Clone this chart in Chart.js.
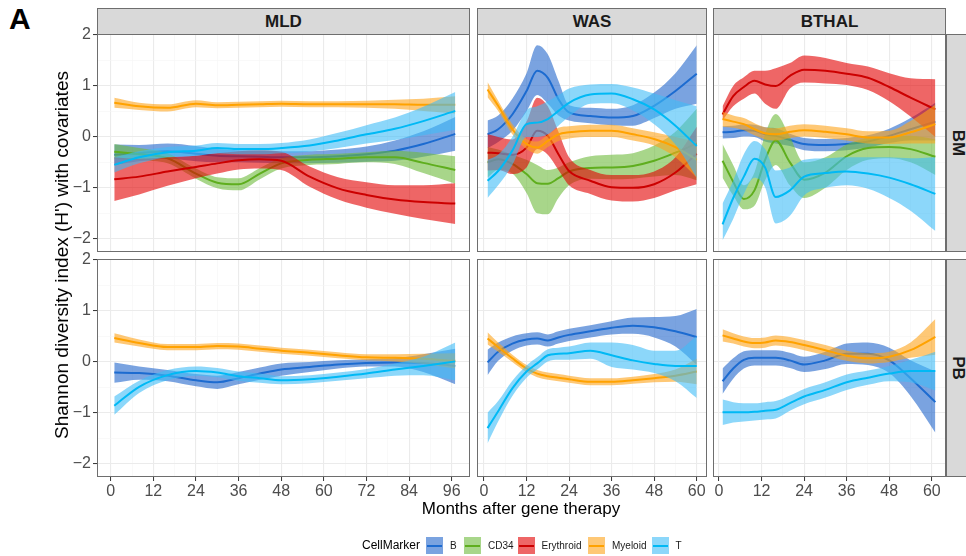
<!DOCTYPE html>
<html>
<head>
<meta charset="utf-8">
<script src="https://cdn.jsdelivr.net/npm/chart.js@4.4.1/dist/chart.umd.min.js"></script>
<style>
  body { margin: 0; background: #fff; font-family: "Liberation Sans", Arial, sans-serif; }
  #fig { position: relative; width: 966px; height: 556px; overflow: hidden; background: #fff; }
  #fig canvas { position: absolute; }
  .strip { position: absolute; background: #d9d9d9; border: 1px solid #6e6e6e; box-sizing: border-box;
           font-weight: bold; font-size: 17px; color: #1a1a1a; display: flex; align-items: center; justify-content: center; }
  .strip.side span { display: inline-block; transform: rotate(90deg); white-space: nowrap; }
  .frame { position: absolute; border: 1px solid #6e6e6e; box-sizing: border-box; pointer-events: none; }
  .txt { position: absolute; white-space: nowrap; color: #000; }
  .key { position: absolute; width: 17px; height: 17px; }
  .key i { position: absolute; left: 1px; right: 1px; top: 7.5px; height: 2px; }
</style>
</head>
<body>
<div id="fig"></div>
<script>
// categories
const cellMarkers = ['B', 'CD34', 'Erythroid', 'Myeloid', 'T'];

// months sampled along each smooth curve
const mldMonths = [1, 8, 16, 24, 30, 36, 42, 48, 56, 64, 72, 80, 88, 97];
const wasMonths = [1, 4, 8, 12, 15, 18, 21, 24, 30, 36, 42, 48, 54, 60];
const bthalMonths = [1, 4, 7, 10, 13, 16, 20, 24, 30, 36, 42, 48, 54, 61];

// MLD - BM
const mldBmB      = [-0.35, -0.32, -0.28, -0.33, -0.37, -0.38, -0.39, -0.40, -0.40, -0.38, -0.34, -0.27, -0.14, 0.06];
const mldBmBLo    = [-0.55, -0.48, -0.43, -0.48, -0.50, -0.50, -0.51, -0.52, -0.52, -0.51, -0.49, -0.47, -0.39, -0.27];
const mldBmBHi    = [-0.15, -0.16, -0.13, -0.18, -0.24, -0.26, -0.27, -0.28, -0.28, -0.25, -0.19, -0.07, 0.11, 0.39];
const mldBmCd34   = [-0.29, -0.34, -0.42, -0.72, -0.90, -0.93, -0.72, -0.52, -0.45, -0.43, -0.40, -0.40, -0.51, -0.65];
const mldBmCd34Lo = [-0.44, -0.46, -0.52, -0.82, -1.01, -1.05, -0.83, -0.62, -0.55, -0.53, -0.50, -0.53, -0.71, -0.92];
const mldBmCd34Hi = [-0.14, -0.22, -0.32, -0.62, -0.79, -0.81, -0.61, -0.42, -0.35, -0.33, -0.30, -0.27, -0.31, -0.38];
const mldBmEry    = [-0.83, -0.78, -0.68, -0.59, -0.52, -0.46, -0.44, -0.47, -0.78, -1.01, -1.14, -1.23, -1.28, -1.31];
const mldBmEryLo  = [-1.26, -1.13, -0.96, -0.81, -0.72, -0.64, -0.62, -0.65, -0.98, -1.23, -1.39, -1.51, -1.61, -1.71];
const mldBmEryHi  = [-0.40, -0.43, -0.40, -0.37, -0.32, -0.28, -0.26, -0.29, -0.58, -0.79, -0.89, -0.95, -0.95, -0.91];
const mldBmMye    = [0.67, 0.60, 0.57, 0.65, 0.62, 0.63, 0.64, 0.65, 0.64, 0.64, 0.64, 0.64, 0.63, 0.63];
const mldBmMyeLo  = [0.57, 0.53, 0.50, 0.58, 0.56, 0.57, 0.58, 0.59, 0.58, 0.58, 0.57, 0.55, 0.51, 0.46];
const mldBmMyeHi  = [0.77, 0.67, 0.64, 0.72, 0.68, 0.69, 0.70, 0.71, 0.70, 0.70, 0.71, 0.73, 0.75, 0.80];
const mldBmT      = [-0.55, -0.40, -0.30, -0.27, -0.22, -0.24, -0.24, -0.22, -0.17, -0.07, 0.05, 0.16, 0.31, 0.51];
const mldBmTLo    = [-0.70, -0.52, -0.40, -0.37, -0.32, -0.34, -0.34, -0.32, -0.29, -0.22, -0.13, -0.06, 0.03, 0.14];
const mldBmTHi    = [-0.40, -0.28, -0.20, -0.17, -0.12, -0.14, -0.14, -0.12, -0.05, 0.08, 0.23, 0.38, 0.59, 0.88];

// MLD - PB
const mldPbB      = [-0.21, -0.22, -0.27, -0.36, -0.40, -0.32, -0.23, -0.15, -0.10, -0.05, -0.02, -0.01, -0.02, -0.08];
const mldPbBLo    = [-0.41, -0.35, -0.38, -0.48, -0.53, -0.44, -0.35, -0.27, -0.20, -0.13, -0.09, -0.09, -0.20, -0.44];
const mldPbBHi    = [-0.01, -0.09, -0.16, -0.24, -0.27, -0.20, -0.11, -0.03, 0.00, 0.03, 0.05, 0.07, 0.15, 0.26];
const mldPbMye    = [0.47, 0.37, 0.29, 0.29, 0.31, 0.30, 0.26, 0.22, 0.18, 0.13, 0.09, 0.08, 0.06, 0.02];
const mldPbMyeLo  = [0.38, 0.30, 0.23, 0.23, 0.25, 0.24, 0.20, 0.16, 0.12, 0.07, 0.03, 0.01, -0.04, -0.13];
const mldPbMyeHi  = [0.56, 0.44, 0.35, 0.35, 0.37, 0.36, 0.32, 0.28, 0.24, 0.19, 0.15, 0.15, 0.16, 0.17];
const mldPbT      = [-0.86, -0.49, -0.26, -0.18, -0.21, -0.28, -0.32, -0.36, -0.34, -0.29, -0.23, -0.15, -0.08, 0.01];
const mldPbTLo    = [-1.04, -0.61, -0.36, -0.27, -0.30, -0.37, -0.41, -0.44, -0.42, -0.37, -0.32, -0.27, -0.26, -0.36];
const mldPbTHi    = [-0.68, -0.37, -0.16, -0.09, -0.12, -0.19, -0.23, -0.28, -0.26, -0.21, -0.14, -0.03, 0.10, 0.38];

// WAS - BM
const wasBmB      = [0.05, 0.15, 0.44, 0.90, 1.30, 1.16, 0.74, 0.48, 0.41, 0.38, 0.41, 0.61, 0.90, 1.24];
const wasBmBLo    = [-0.22, -0.10, 0.12, 0.50, 0.82, 0.65, 0.42, 0.32, 0.27, 0.23, 0.22, 0.37, 0.55, 0.65];
const wasBmBHi    = [0.32, 0.42, 0.75, 1.25, 1.80, 1.62, 1.10, 0.62, 0.57, 0.55, 0.62, 0.87, 1.25, 1.80];
const wasBmCd34   = [-0.50, -0.44, -0.53, -0.73, -0.91, -0.92, -0.81, -0.68, -0.61, -0.60, -0.57, -0.47, -0.31, -0.13];
const wasBmCd34Lo = [-0.80, -0.65, -0.72, -1.10, -1.50, -1.52, -1.20, -0.95, -0.82, -0.83, -0.82, -0.78, -0.75, -0.85];
const wasBmCd34Hi = [-0.20, -0.25, -0.35, -0.45, -0.55, -0.65, -0.60, -0.50, -0.38, -0.35, -0.32, -0.17, 0.10, 0.55];
const wasBmEry    = [-0.31, -0.32, -0.35, -0.21, 0.12, 0.02, -0.34, -0.67, -0.86, -0.99, -1.00, -0.93, -0.70, -0.33];
const wasBmEryLo  = [-0.66, -0.65, -0.73, -0.60, -0.24, -0.35, -0.65, -0.95, -1.12, -1.25, -1.27, -1.20, -1.05, -0.93];
const wasBmEryHi  = [0.05, 0.00, -0.05, 0.30, 0.77, 0.60, 0.10, -0.40, -0.65, -0.75, -0.75, -0.68, -0.40, 0.20];
const wasBmMye    = [0.93, 0.61, 0.15, -0.14, -0.21, -0.08, 0.05, 0.09, 0.12, 0.12, 0.05, -0.04, -0.20, -0.45];
const wasBmMyeLo  = [0.78, 0.51, 0.05, -0.24, -0.33, -0.20, -0.08, -0.03, 0.00, 0.00, -0.07, -0.17, -0.40, -0.80];
const wasBmMyeHi  = [1.08, 0.71, 0.25, -0.04, -0.09, 0.04, 0.18, 0.21, 0.24, 0.24, 0.17, 0.09, 0.00, -0.10];
const wasBmT      = [-0.86, -0.67, -0.27, 0.25, 0.28, 0.35, 0.51, 0.67, 0.83, 0.85, 0.74, 0.54, 0.22, -0.18];
const wasBmTLo    = [-1.20, -0.95, -0.55, 0.00, 0.00, 0.05, 0.22, 0.40, 0.65, 0.66, 0.52, 0.25, -0.15, -0.80];
const wasBmTHi    = [-0.45, -0.35, 0.00, 0.52, 0.60, 0.70, 0.82, 0.95, 1.03, 1.04, 0.97, 0.85, 0.72, 0.60];

// WAS - PB
const wasPbB      = [-0.01, 0.20, 0.36, 0.44, 0.46, 0.42, 0.48, 0.53, 0.60, 0.67, 0.71, 0.68, 0.60, 0.49];
const wasPbBLo    = [-0.26, 0.02, 0.22, 0.32, 0.34, 0.30, 0.36, 0.41, 0.48, 0.54, 0.55, 0.48, 0.30, -0.06];
const wasPbBHi    = [0.24, 0.38, 0.50, 0.56, 0.58, 0.54, 0.60, 0.65, 0.72, 0.80, 0.87, 0.88, 0.90, 1.04];
const wasPbMye    = [0.46, 0.29, 0.07, -0.13, -0.23, -0.28, -0.31, -0.34, -0.39, -0.39, -0.36, -0.32, -0.27, -0.19];
const wasPbMyeLo  = [0.34, 0.20, 0.00, -0.20, -0.30, -0.35, -0.38, -0.41, -0.46, -0.46, -0.43, -0.40, -0.39, -0.44];
const wasPbMyeHi  = [0.58, 0.38, 0.14, -0.06, -0.16, -0.21, -0.24, -0.27, -0.32, -0.32, -0.29, -0.24, -0.15, 0.06];
const wasPbT      = [-1.30, -0.97, -0.52, -0.19, -0.03, 0.13, 0.16, 0.17, 0.22, 0.13, 0.03, -0.04, -0.08, -0.08];
const wasPbTLo    = [-1.60, -1.17, -0.67, -0.31, -0.15, 0.01, 0.04, 0.04, 0.06, -0.10, -0.15, -0.22, -0.38, -0.71];
const wasPbTHi    = [-1.00, -0.77, -0.37, -0.07, 0.09, 0.25, 0.28, 0.30, 0.38, 0.38, 0.33, 0.22, 0.22, 0.51];

// BTHAL - BM
const bthalBmB      = [0.09, 0.10, 0.13, 0.12, 0.05, 0.02, -0.06, -0.14, -0.16, -0.14, -0.09, 0.02, 0.15, 0.30];
const bthalBmBLo    = [-0.03, -0.02, 0.01, 0.00, -0.09, -0.13, -0.18, -0.26, -0.28, -0.26, -0.21, -0.12, -0.07, -0.07];
const bthalBmBHi    = [0.21, 0.22, 0.25, 0.24, 0.19, 0.17, 0.06, -0.02, -0.04, -0.02, 0.03, 0.16, 0.37, 0.67];
const bthalBmCd34   = [-0.47, -0.88, -1.22, -1.05, -0.45, -0.07, -0.50, -0.84, -0.70, -0.38, -0.22, -0.20, -0.24, -0.39];
const bthalBmCd34Lo = [-0.80, -1.15, -1.42, -1.35, -0.85, -0.55, -0.95, -1.20, -1.00, -0.65, -0.45, -0.42, -0.50, -0.75];
const bthalBmCd34Hi = [-0.14, -0.55, -0.95, -0.70, 0.05, 0.45, 0.00, -0.50, -0.40, -0.15, -0.02, 0.00, 0.02, -0.05];
const bthalBmEry    = [0.44, 0.80, 0.98, 1.10, 1.03, 1.00, 1.20, 1.32, 1.30, 1.24, 1.16, 0.98, 0.77, 0.54];
const bthalBmEryLo  = [0.32, 0.60, 0.75, 0.85, 0.65, 0.55, 0.95, 1.07, 1.05, 1.02, 0.92, 0.70, 0.40, 0.00];
const bthalBmEryHi  = [0.60, 1.00, 1.17, 1.30, 1.30, 1.35, 1.45, 1.60, 1.55, 1.45, 1.38, 1.25, 1.15, 1.13];
const bthalBmMye    = [0.35, 0.30, 0.25, 0.15, 0.07, 0.05, 0.10, 0.13, 0.10, 0.05, -0.01, -0.01, 0.09, 0.25];
const bthalBmMyeLo  = [0.20, 0.18, 0.13, 0.03, -0.05, -0.07, -0.02, 0.01, -0.02, -0.07, -0.13, -0.14, -0.13, -0.13];
const bthalBmMyeHi  = [0.50, 0.42, 0.37, 0.27, 0.19, 0.17, 0.22, 0.25, 0.22, 0.17, 0.11, 0.12, 0.31, 0.63];
const bthalBmT      = [-1.72, -1.20, -0.78, -0.43, -0.60, -1.18, -1.05, -0.78, -0.71, -0.68, -0.72, -0.80, -0.93, -1.12];
const bthalBmTLo    = [-2.03, -1.61, -1.12, -0.80, -0.99, -1.70, -1.55, -1.15, -1.00, -0.95, -1.02, -1.20, -1.45, -1.85];
const bthalBmTHi    = [-1.31, -0.86, -0.34, -0.08, -0.24, -0.66, -0.60, -0.45, -0.42, -0.40, -0.40, -0.40, -0.42, -0.40];

// BTHAL - PB
const bthalPbB      = [-0.38, -0.13, 0.04, 0.08, 0.08, 0.08, 0.03, -0.05, 0.03, 0.16, 0.16, 0.03, -0.32, -0.79];
const bthalPbBLo    = [-0.63, -0.33, -0.13, -0.07, -0.07, -0.07, -0.12, -0.20, -0.14, -0.04, -0.06, -0.22, -0.67, -1.39];
const bthalPbBHi    = [-0.13, 0.07, 0.21, 0.23, 0.23, 0.23, 0.18, 0.10, 0.20, 0.36, 0.38, 0.28, 0.03, -0.19];
const bthalPbMye    = [0.52, 0.46, 0.40, 0.37, 0.38, 0.42, 0.39, 0.33, 0.23, 0.12, 0.07, 0.10, 0.23, 0.49];
const bthalPbMyeLo  = [0.40, 0.36, 0.30, 0.27, 0.28, 0.32, 0.29, 0.23, 0.13, 0.02, -0.03, 0.00, 0.08, 0.14];
const bthalPbMyeHi  = [0.64, 0.56, 0.50, 0.47, 0.48, 0.52, 0.49, 0.43, 0.33, 0.22, 0.17, 0.20, 0.38, 0.84];
const bthalPbT      = [-0.99, -0.99, -0.99, -0.98, -0.96, -0.94, -0.81, -0.68, -0.55, -0.40, -0.31, -0.23, -0.18, -0.18];
const bthalPbTLo    = [-1.24, -1.19, -1.17, -1.15, -1.13, -1.11, -0.96, -0.83, -0.70, -0.55, -0.45, -0.38, -0.40, -0.56];
const bthalPbTHi    = [-0.74, -0.79, -0.81, -0.81, -0.79, -0.77, -0.66, -0.53, -0.40, -0.25, -0.17, -0.08, 0.04, 0.20];

// colours
const lineColors = ['#1c6bd0', '#5fae1e', '#cc0000', '#ffa200', '#00b9f5'];
const fillColors = ['rgba(33,102,203,0.6)', 'rgba(110,187,60,0.6)', 'rgba(227,0,0,0.6)',
                    'rgba(253,163,27,0.6)', 'rgba(63,188,247,0.6)'];

// layout of the facet grid
const cols = [
  { name: 'MLD', x0: 97, x1: 470, min: -3.86, max: 101.15 },
  { name: 'WAS', x0: 477, x1: 707, min: -1.97, max: 62.9 },
  { name: 'BTHAL', x0: 713, x1: 946, min: -1.69, max: 64.0 }
];
const rows = [
  { name: 'BM', y0: 34, y1: 252 },
  { name: 'PB', y0: 259, y1: 477 }
];
const yMin = -2.26, yMax = 2.02;
const fontFamily = '"Liberation Sans", Arial, sans-serif';

const panels = [
  { col: 0, row: 0, months: mldMonths, series: [
    ['B', mldBmB, mldBmBLo, mldBmBHi], ['CD34', mldBmCd34, mldBmCd34Lo, mldBmCd34Hi],
    ['Erythroid', mldBmEry, mldBmEryLo, mldBmEryHi], ['Myeloid', mldBmMye, mldBmMyeLo, mldBmMyeHi],
    ['T', mldBmT, mldBmTLo, mldBmTHi]] },
  { col: 1, row: 0, months: wasMonths, series: [
    ['B', wasBmB, wasBmBLo, wasBmBHi], ['CD34', wasBmCd34, wasBmCd34Lo, wasBmCd34Hi],
    ['Erythroid', wasBmEry, wasBmEryLo, wasBmEryHi], ['Myeloid', wasBmMye, wasBmMyeLo, wasBmMyeHi],
    ['T', wasBmT, wasBmTLo, wasBmTHi]] },
  { col: 2, row: 0, months: bthalMonths, series: [
    ['B', bthalBmB, bthalBmBLo, bthalBmBHi], ['CD34', bthalBmCd34, bthalBmCd34Lo, bthalBmCd34Hi],
    ['Erythroid', bthalBmEry, bthalBmEryLo, bthalBmEryHi], ['Myeloid', bthalBmMye, bthalBmMyeLo, bthalBmMyeHi],
    ['T', bthalBmT, bthalBmTLo, bthalBmTHi]] },
  { col: 0, row: 1, months: mldMonths, series: [
    ['B', mldPbB, mldPbBLo, mldPbBHi], ['Myeloid', mldPbMye, mldPbMyeLo, mldPbMyeHi], ['T', mldPbT, mldPbTLo, mldPbTHi]] },
  { col: 1, row: 1, months: wasMonths, series: [
    ['B', wasPbB, wasPbBLo, wasPbBHi], ['Myeloid', wasPbMye, wasPbMyeLo, wasPbMyeHi], ['T', wasPbT, wasPbTLo, wasPbTHi]] },
  { col: 2, row: 1, months: bthalMonths, series: [
    ['B', bthalPbB, bthalPbBLo, bthalPbBHi], ['Myeloid', bthalPbMye, bthalPbMyeLo, bthalPbMyeHi], ['T', bthalPbT, bthalPbTLo, bthalPbTHi]] }
];

const fig = document.getElementById('fig');

function addDiv(cls, left, top, width, height, html) {
  var d = document.createElement('div');
  d.className = cls;
  d.style.left = left + 'px';
  d.style.top = top + 'px';
  if (width != null) d.style.width = width + 'px';
  if (height != null) d.style.height = height + 'px';
  if (html != null) d.innerHTML = html;
  fig.appendChild(d);
  return d;
}

function isMajorX(v) { return Math.abs(v % 12) < 1e-6; }
function isMajorY(v) { return Math.abs(v - Math.round(v)) < 1e-6; }

function drawPanel(p) {
  var c = cols[p.col], r = rows[p.row];
  var isLeft = p.col === 0, isBottom = p.row === 1;
  var padL = isLeft ? 40 : 0, padB = isBottom ? 30 : 0, padT = isLeft ? 12 : 0;

  var canvas = document.createElement('canvas');
  canvas.width = (c.x1 - c.x0) + padL;
  canvas.height = (r.y1 - r.y0) + padB + padT;
  canvas.style.left = (c.x0 - padL) + 'px';
  canvas.style.top = (r.y0 - padT) + 'px';
  fig.appendChild(canvas);

  var datasets = [];
  p.series.forEach(function(s) {
    var k = cellMarkers.indexOf(s[0]);
    var pts = function(arr) { return p.months.map(function(m, i) { return { x: m, y: arr[i] }; }); };
    datasets.push({ data: pts(s[2]), borderColor: 'transparent', borderWidth: 0, fill: false });
    datasets.push({ data: pts(s[3]), borderColor: 'transparent', borderWidth: 0, fill: '-1', backgroundColor: fillColors[k] });
    datasets.push({ data: pts(s[1]), borderColor: lineColors[k], borderWidth: 2, fill: false });
  });
  // ribbon then line, group after group (later groups on top)
  datasets.forEach(function(d, i) {
    d.order = datasets.length - i;
    d.pointRadius = 0;
    d.cubicInterpolationMode = 'monotone';
  });

  new Chart(canvas, {
    type: 'line',
    data: { datasets: datasets },
    options: {
      responsive: false,
      animation: false,
      devicePixelRatio: 1,
      layout: { autoPadding: false, padding: { top: padT, left: 0, right: 0, bottom: 0 } },
      plugins: { legend: { display: false }, tooltip: { enabled: false } },
      events: [],
      scales: {
        x: {
          type: 'linear', min: c.min, max: c.max,
          border: { display: false },
          grid: {
            color: function(ctx) { return ctx.tick && isMajorX(ctx.tick.value) ? '#ebebeb' : '#f5f5f5'; },
            lineWidth: function(ctx) { return ctx.tick && isMajorX(ctx.tick.value) ? 1.1 : 0.6; },
            drawTicks: isBottom, tickLength: 4, tickWidth: 1,
            tickColor: function(ctx) { return ctx.tick && isMajorX(ctx.tick.value) ? '#333333' : 'rgba(0,0,0,0)'; }
          },
          ticks: {
            display: isBottom, stepSize: 6, includeBounds: false, autoSkip: false, maxRotation: 0,
            padding: 1, color: '#4d4d4d', font: { family: fontFamily, size: 16 },
            callback: function(v) { return isMajorX(v) ? String(Math.round(v)) : ''; }
          },
          afterFit: function(s) { s.height = isBottom ? 30 : 0; s.paddingLeft = 0; s.paddingRight = 0; }
        },
        y: {
          type: 'linear', min: yMin, max: yMax,
          border: { display: false },
          grid: {
            color: function(ctx) { return ctx.tick && isMajorY(ctx.tick.value) ? '#ebebeb' : '#f5f5f5'; },
            lineWidth: function(ctx) { return ctx.tick && isMajorY(ctx.tick.value) ? 1.1 : 0.6; },
            drawTicks: isLeft, tickLength: 4, tickWidth: 1,
            tickColor: function(ctx) { return ctx.tick && isMajorY(ctx.tick.value) ? '#333333' : 'rgba(0,0,0,0)'; }
          },
          ticks: {
            display: isLeft, stepSize: 0.5, includeBounds: false, autoSkip: false,
            padding: 2, color: '#4d4d4d', font: { family: fontFamily, size: 16 },
            callback: function(v) {
              if (!isMajorY(v)) return '';
              var n = Math.round(v);
              return n < 0 ? '\u2212' + Math.abs(n) : String(n);
            }
          },
          afterFit: function(s) { s.width = isLeft ? 40 : 0; s.paddingTop = 0; s.paddingBottom = 0; }
        }
      }
    }
  });

  addDiv('frame', c.x0, r.y0, c.x1 - c.x0, r.y1 - r.y0);
}

// strips
cols.forEach(function(c) { addDiv('strip', c.x0, 8, c.x1 - c.x0, 27, '<span>' + c.name + '</span>'); });
rows.forEach(function(r) { addDiv('strip side', 946, r.y0, 24, r.y1 - r.y0, '<span>' + r.name + '</span>'); });

panels.forEach(drawPanel);

// titles
addDiv('txt', 9, 2, null, null, 'A').style.cssText += 'font-weight:bold;font-size:30px;';
var xt = addDiv('txt', 521, 499, null, null, 'Months after gene therapy');
xt.style.cssText += 'font-size:17px;transform:translateX(-50%);';
var yt = addDiv('txt', 62, 255, null, null, "Shannon diversity index (H') with covariates");
yt.style.cssText += 'font-size:19px;transform:translate(-50%,-50%) rotate(-90deg);';

// legend
var lt = addDiv('txt', 362, 538, null, null, 'CellMarker');
lt.style.cssText += 'font-size:12px;line-height:15px;';
var keyLeft = [426, 463.5, 517.5, 587.5, 651.5];
var labLeft = [450, 488, 541.5, 612, 675.5];
cellMarkers.forEach(function(name, k) {
  var key = addDiv('key', keyLeft[k], 537, null, null, '<i></i>');
  key.style.background = fillColors[k];
  key.firstChild.style.background = lineColors[k];
  var lab = addDiv('txt', labLeft[k], 539, null, null, name);
  lab.style.cssText += 'font-size:10px;line-height:13px;color:#1a1a1a;';
});
</script>
</body>
</html>
